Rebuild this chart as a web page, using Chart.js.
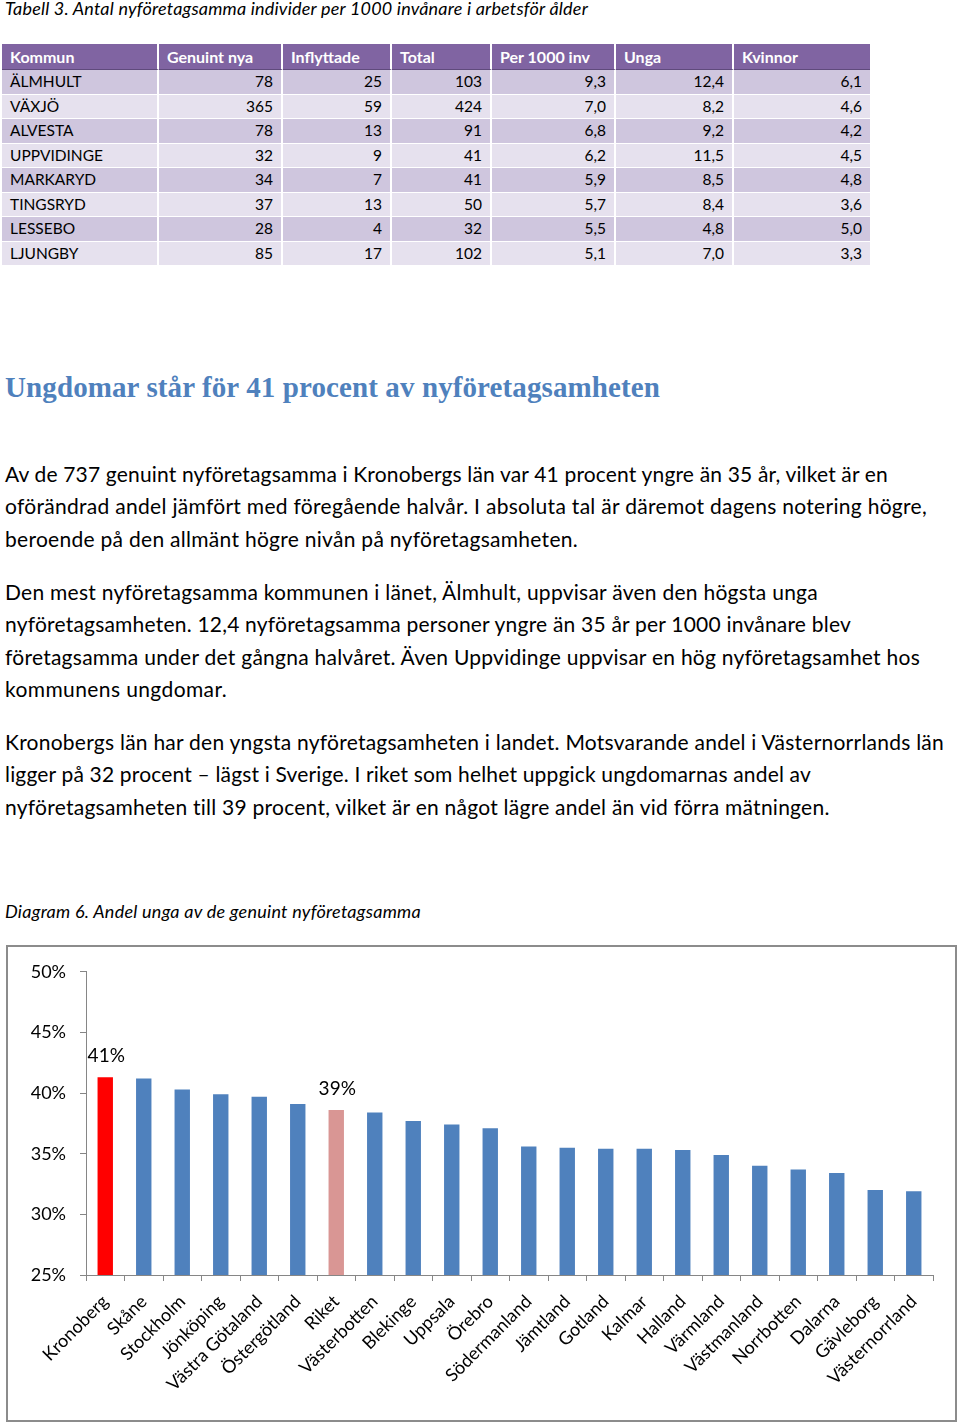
<!DOCTYPE html>
<html lang="sv">
<head>
<meta charset="utf-8">
<script src="https://cdn.jsdelivr.net/npm/chart.js@4.4.0/dist/chart.umd.min.js"></script>
<style>
  html, body { margin: 0; padding: 0; background: #fff; }
  body { width: 960px; height: 1425px; position: relative; overflow: hidden; font-family: Lato, "Open Sans", sans-serif; color: #000; }
  .abs { position: absolute; white-space: nowrap; }
  .cap { font-style: italic; font-size: 18px; line-height: 24px; left: 5px; }
  .head { font-family: "Liberation Serif", serif; font-weight: bold; font-size: 29px; line-height: 40px; color: #4F81BD; left: 5px; }
  .para { left: 5px; font-size: 21px; line-height: 32.4px; }
  .para div { white-space: nowrap; display: block; width: max-content; }
  table { position: absolute; left: 2px; top: 44px; border-collapse: separate; border-spacing: 0; font-size: 15.5px; table-layout: fixed; width: 868px; }
  th { background: #8064A2; color: #fff; font-weight: bold; font-size: 16px; text-align: left; height: 25px; padding: 0 0 0 8px; border-right: 2px solid #fff; border-bottom: 1px solid #5f4a7c; line-height: 25px; }
  td { height: 23.5px; padding: 0 8px; border-right: 2px solid #fff; border-bottom: 1px solid #fff; line-height: 23.5px; }
  th:last-child, td:last-child { border-right: none; }
  tr.dark td { background: #CFC6DE; }
  tr.light td { background: #E6E1EE; }
  td.num { text-align: right; }
  #box { position: absolute; left: 6px; top: 945px; width: 951px; height: 477px; border: 2px solid #8c8c8c; box-sizing: border-box; }
  #chart { position: absolute; left: 8px; top: 947px; }
</style>
</head>
<body>
<div class="abs cap" style="top:-4px" data-w="583">Tabell 3. Antal nyföretagsamma individer per 1000 invånare i arbetsför ålder</div>

<table id="tbl">
  <colgroup>
    <col style="width:157px"><col style="width:124px"><col style="width:109px"><col style="width:100px"><col style="width:124px"><col style="width:118px"><col style="width:136px">
  </colgroup>
  <thead><tr id="hdr"></tr></thead>
  <tbody id="tbody"></tbody>
</table>

<div class="abs head" style="top:367px" data-w="655">Ungdomar står för 41 procent av nyföretagsamheten</div>

<div class="abs para" style="top:458px">
  <div data-w="883">Av de 737 genuint nyföretagsamma i Kronobergs län var 41 procent yngre än 35 år, vilket är en</div>
  <div data-w="922">oförändrad andel jämfört med föregående halvår. I absoluta tal är däremot dagens notering högre,</div>
  <div data-w="573">beroende på den allmänt högre nivån på nyföretagsamheten.</div>
</div>
<div class="abs para" style="top:576px">
  <div data-w="813">Den mest nyföretagsamma kommunen i länet, Älmhult, uppvisar även den högsta unga</div>
  <div data-w="846">nyföretagsamheten. 12,4 nyföretagsamma personer yngre än 35 år per 1000 invånare blev</div>
  <div data-w="915">företagsamma under det gångna halvåret. Även Uppvidinge uppvisar en hög nyföretagsamhet hos</div>
  <div data-w="222">kommunens ungdomar.</div>
</div>
<div class="abs para" style="top:726px">
  <div data-w="939">Kronobergs län har den yngsta nyföretagsamheten i landet. Motsvarande andel i Västernorrlands län</div>
  <div data-w="806">ligger på 32 procent – lägst i Sverige. I riket som helhet uppgick ungdomarnas andel av</div>
  <div data-w="825">nyföretagsamheten till 39 procent, vilket är en något lägre andel än vid förra mätningen.</div>
</div>

<div class="abs cap" style="top:899px" data-w="416">Diagram 6. Andel unga av de genuint nyföretagsamma</div>

<div id="box"></div>
<canvas id="chart" width="946" height="472"></canvas>

<script>
// ---- Table data ----
const tableHeaders = ["Kommun", "Genuint nya", "Inflyttade", "Total", "Per 1000 inv", "Unga", "Kvinnor"];
const kommuner   = ["ÄLMHULT", "VÄXJÖ", "ALVESTA", "UPPVIDINGE", "MARKARYD", "TINGSRYD", "LESSEBO", "LJUNGBY"];
const genuintNya = [78, 365, 78, 32, 34, 37, 28, 85];
const inflyttade = [25, 59, 13, 9, 7, 13, 4, 17];
const totalt     = [103, 424, 91, 41, 41, 50, 32, 102];
const per1000    = ["9,3", "7,0", "6,8", "6,2", "5,9", "5,7", "5,5", "5,1"];
const unga       = ["12,4", "8,2", "9,2", "11,5", "8,5", "8,4", "4,8", "7,0"];
const kvinnor    = ["6,1", "4,6", "4,2", "4,5", "4,8", "3,6", "5,0", "3,3"];

// ---- Chart data ----
const regions = ["Kronoberg", "Skåne", "Stockholm", "Jönköping", "Västra Götaland", "Östergötland", "Riket",
  "Västerbotten", "Blekinge", "Uppsala", "Örebro", "Södermanland", "Jämtland", "Gotland", "Kalmar", "Halland",
  "Värmland", "Västmanland", "Norrbotten", "Dalarna", "Gävleborg", "Västernorrland"];
const youthShare = [41.3, 41.2, 40.3, 39.9, 39.7, 39.1, 38.6, 38.4, 37.7, 37.4, 37.1, 35.6, 35.5, 35.4, 35.4, 35.3,
  34.9, 34.0, 33.7, 33.4, 32.0, 31.9];
const barLabels = ["41%", null, null, null, null, null, "39%", null, null, null, null, null, null, null, null, null,
  null, null, null, null, null, null];
const yTicks = [25, 30, 35, 40, 45, 50];

// build table
const hdr = document.getElementById('hdr');
tableHeaders.forEach(h => { const th = document.createElement('th'); th.textContent = h; hdr.appendChild(th); });
const tbody = document.getElementById('tbody');
kommuner.forEach((k, i) => {
  const tr = document.createElement('tr');
  tr.className = i % 2 === 0 ? 'dark' : 'light';
  const cells = [k, genuintNya[i], inflyttade[i], totalt[i], per1000[i], unga[i], kvinnor[i]];
  cells.forEach((c, j) => {
    const td = document.createElement('td');
    td.textContent = c;
    if (j > 0) td.className = 'num';
    tr.appendChild(td);
  });
  tbody.appendChild(tr);
});

// fit text widths
document.querySelectorAll('[data-w]').forEach(el => {
  const target = parseFloat(el.dataset.w);
  el.style.display = 'inline-block';
  const w = el.getBoundingClientRect().width;
  const n = el.textContent.length;
  if (n > 1) el.style.letterSpacing = ((target - w) / n) + 'px';
  el.style.display = '';
});

// chart
const BLUE = '#4F81BD', RED = '#FF0000', PINK = '#D99694';
const colors = regions.map(r => r === 'Kronoberg' ? RED : (r === 'Riket' ? PINK : BLUE));
const AXIS = '#868686';

const labelPlugin = {
  id: 'barLabels',
  afterDatasetsDraw(chart) {
    const ctx = chart.ctx;
    const meta = chart.getDatasetMeta(0);
    ctx.save();
    ctx.font = '19px Lato';
    ctx.fillStyle = '#000';
    ctx.textAlign = 'center';
    ctx.textBaseline = 'alphabetic';
    meta.data.forEach((bar, i) => {
      if (barLabels[i]) ctx.fillText(barLabels[i], bar.x + 1, bar.y - 15);
    });
    ctx.restore();
  }
};

Chart.defaults.font.family = 'Lato';
Chart.defaults.color = '#000';

new Chart(document.getElementById('chart'), {
  type: 'bar',
  data: {
    labels: regions,
    datasets: [{
      data: youthShare,
      backgroundColor: colors,
      borderWidth: 0,
      barPercentage: 0.4,
      categoryPercentage: 1.0
    }]
  },
  options: {
    responsive: false,
    animation: false,
    devicePixelRatio: 1,
    layout: { padding: { top: 22, right: 21, left: 0, bottom: 0 } },
    plugins: { legend: { display: false }, tooltip: { enabled: false }, title: { display: false } },
    scales: {
      x: {
        offset: true,
        grid: { display: true, drawOnChartArea: false, drawTicks: true, tickLength: 6, color: AXIS, offset: true },
        border: { display: true, color: AXIS, width: 1 },
        ticks: { minRotation: 45, maxRotation: 45, autoSkip: false, font: { size: 18 }, color: '#000', padding: 10 },
        afterFit(scale) { scale.height = 144; }
      },
      y: {
        min: 25, max: 50,
        afterBuildTicks(scale) { scale.ticks = yTicks.map(v => ({ value: v })); },
        grid: { display: true, drawOnChartArea: false, drawTicks: true, tickLength: 6, color: AXIS },
        border: { display: true, color: AXIS, width: 1 },
        ticks: { font: { size: 18 }, color: '#000', padding: 14, callback: v => v + '%' },
        afterFit(scale) { scale.width = 78; }
      }
    }
  },
  plugins: [labelPlugin]
});
</script>
</body>
</html>
